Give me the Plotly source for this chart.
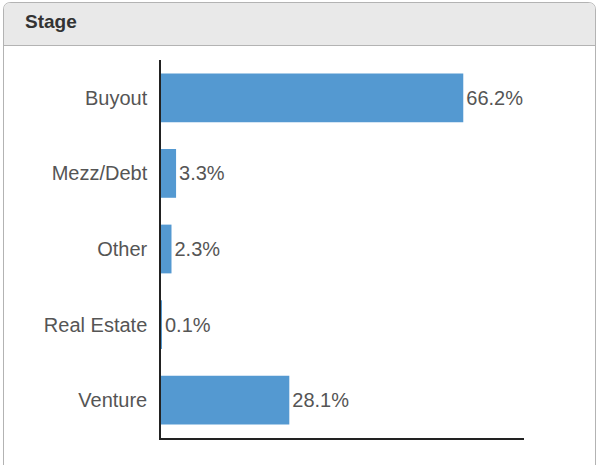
import plotly.graph_objects as go

categories = ["Buyout", "Mezz/Debt", "Other", "Real Estate", "Venture"]
values = [66.2, 3.3, 2.3, 0.1, 28.1]
labels = ["66.2%", "3.3%", "2.3%", "0.1%", "28.1%"]
title_text = "Stage"

W, H = 599, 467
FONT = "Liberation Sans, Arial, sans-serif"

fig = go.Figure(go.Bar(
    x=values, y=categories, orientation="h",
    marker=dict(color="#5499d1", line=dict(width=0)),
    width=0.645,
    text=labels, textposition="outside",
    textfont=dict(family=FONT, size=20, color="#555"),
    cliponaxis=False,
    hoverinfo="skip",
))

def px(x):
    return x / W

def py(y):
    return 1 - y / H

shapes = [
    dict(type="path", xref="paper", yref="paper",
         path=f"M {px(3.5)} {py(465)} L {px(3.5)} {py(10)} Q {px(3.5)} {py(2.5)} {px(11)} {py(2.5)} "
              f"L {px(588)} {py(2.5)} Q {px(595.5)} {py(2.5)} {px(595.5)} {py(10)} L {px(595.5)} {py(465)}",
         line=dict(color="#b3b3b3", width=1), fillcolor="rgba(0,0,0,0)", layer="below"),
    dict(type="path", xref="paper", yref="paper",
         path=f"M {px(4)} {py(45)} L {px(4)} {py(10)} Q {px(4)} {py(3)} {px(11)} {py(3)} "
              f"L {px(588)} {py(3)} Q {px(595)} {py(3)} {px(595)} {py(10)} L {px(595)} {py(45)} Z",
         line=dict(width=0), fillcolor="#e9e9e9", layer="below"),
    dict(type="line", xref="paper", yref="paper",
         x0=px(4), x1=px(595), y0=py(45.5), y1=py(45.5),
         line=dict(color="#b3b3b3", width=1), layer="below"),
]

fig.update_layout(
    width=W, height=H,
    margin=dict(l=0, r=0, t=0, b=0),
    paper_bgcolor="white", plot_bgcolor="rgba(0,0,0,0)",
    showlegend=False,
    shapes=shapes,
    annotations=[dict(text=f"<b>{title_text}</b>", xref="paper", yref="paper",
                      x=px(23), y=py(21), xanchor="left", yanchor="middle",
                      showarrow=False,
                      font=dict(family=FONT, size=19, color="#333"))],
    xaxis=dict(domain=[px(161), px(524)], range=[0, 79.5], showgrid=False,
               zeroline=False, showticklabels=False, ticks="",
               showline=True, linecolor="#222", linewidth=1.5, fixedrange=True),
    yaxis=dict(domain=[py(438), py(60)], autorange="reversed", showgrid=False,
               zeroline=False, ticks="", ticklabelstandoff=8,
               showline=True, linecolor="#222", linewidth=1.5,
               tickfont=dict(family=FONT, size=20, color="#555"),
               fixedrange=True),
    font=dict(family=FONT),
)

fig.write_html("out.html",
               config={"displayModeBar": False},
               post_script="document.body.style.margin='0';document.body.style.overflow='hidden';")
